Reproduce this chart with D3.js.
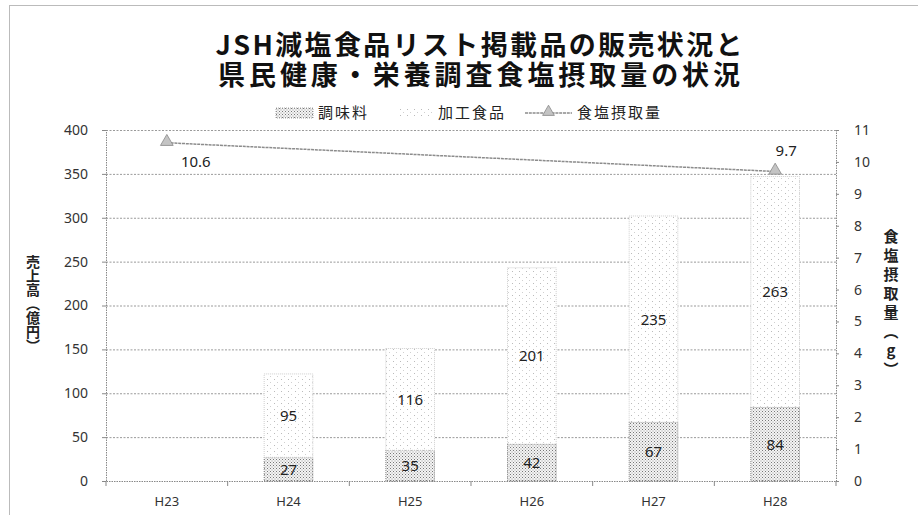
<!DOCTYPE html>
<html>
<head>
<meta charset="utf-8">
<script src="https://cdn.jsdelivr.net/npm/d3@7"></script>
<style>
body { margin: 0; background: #fff; }
svg { display: block; }
</style>
</head>
<body>
<svg id="chart" width="918" height="515"></svg>
<script>
// values
var categories = ['H23', 'H24', 'H25', 'H26', 'H27', 'H28']
var seasoning = [null, 27, 35, 42, 67, 84]        // 調味料
var processed = [null, 95, 116, 201, 235, 263]    // 加工食品
var saltIntake = [10.6, null, null, null, null, 9.7] // 食塩摂取量 (g)
var leftTicks = [0, 50, 100, 150, 200, 250, 300, 350, 400]
var rightTicks = [0, 1, 2, 3, 4, 5, 6, 7, 8, 9, 10, 11]

var svg = d3.select('#chart')
var plotLeft = 106, plotRight = 836, plotTop = 130, plotBottom = 481
var numFont = '"Noto Sans", "DejaVu Sans", sans-serif'
var cjkFont = '"Noto Sans CJK JP", "Noto Sans", sans-serif'

// patterns standing in for the scanned stipple fills
var defs = svg.append('defs')
var dense = defs.append('pattern').attr('id', 'dense')
    .attr('width', 3).attr('height', 3).attr('patternUnits', 'userSpaceOnUse')
dense.append('rect').attr('width', 3).attr('height', 3).attr('fill', '#f4f4f4')
dense.append('rect').attr('x', 0).attr('y', 0).attr('width', 1).attr('height', 1).attr('fill', '#777')
dense.append('rect').attr('x', 1.5).attr('y', 1.5).attr('width', 1).attr('height', 1).attr('fill', '#999')
var sparse = defs.append('pattern').attr('id', 'sparse')
    .attr('width', 7).attr('height', 6).attr('patternUnits', 'userSpaceOnUse')
sparse.append('rect').attr('width', 7).attr('height', 6).attr('fill', '#fff')
sparse.append('rect').attr('x', 1).attr('y', 1).attr('width', 1).attr('height', 1).attr('fill', '#bbb')
sparse.append('rect').attr('x', 4).attr('y', 4).attr('width', 1).attr('height', 1).attr('fill', '#d0d0d0')

// outer dotted frame
svg.append('rect')
    .attr('x', 9.5).attr('y', 5.5).attr('width', 920).attr('height', 520)
    .attr('fill', 'none').attr('stroke', '#777').attr('stroke-dasharray', '1,1')

// title, one text with a tspan per line
var titleLines = ['JSH減塩食品リスト掲載品の販売状況と', '県民健康・栄養調査食塩摂取量の状況']
svg.append('text')
    .attr('text-anchor', 'middle')
    .style('font-family', cjkFont).style('font-weight', 'bold').style('font-size', '27px')
    .style('fill', '#111')
    .selectAll('tspan').data(titleLines).enter().append('tspan')
    .attr('x', 479).attr('y', function (d, i) { return 55 + i * 30 })
    .attr('textLength', function (d, i) { return i == 0 ? 527 : 522 })
    .attr('lengthAdjust', 'spacing')
    .text(function (d) { return d })

// scales
var x = d3.scaleBand().domain(categories).range([plotLeft, plotRight]).paddingInner(0.6).paddingOuter(0.3)
var xEdges = d3.scaleBand().domain(categories).range([plotLeft, plotRight])
var y = d3.scaleLinear().domain([0, 400]).range([plotBottom, plotTop])
var y2 = d3.scaleLinear().domain([0, 11]).range([plotBottom, plotTop])

// gridlines
svg.append('g').selectAll('line').data(leftTicks.slice(1)).enter().append('line')
    .attr('x1', plotLeft).attr('x2', plotRight)
    .attr('y1', function (d) { return y(d) + 0.5 }).attr('y2', function (d) { return y(d) + 0.5 })
    .attr('stroke', '#9a9a9a').attr('stroke-dasharray', '2,1.5')

// stacked bars
var table = categories.map(function (c, i) {
    return { cat: c, seasoning: seasoning[i], processed: processed[i] }
}).filter(function (d) { return d.seasoning != null })
var stacked = d3.stack().keys(['seasoning', 'processed'])(table)
var fills = { seasoning: 'url(#dense)', processed: 'url(#sparse)' }
var edges = { seasoning: '#8a8a8a', processed: '#cfcfcf' }

var layers = svg.append('g').selectAll('g').data(stacked).enter().append('g')
layers.selectAll('rect').data(function (s) { return s.map(function (d) { d.key = s.key; return d }) })
    .enter().append('rect')
    .attr('x', function (d) { return x(d.data.cat) })
    .attr('width', x.bandwidth())
    .attr('y', function (d) { return y(d[1]) })
    .attr('height', function (d) { return y(d[0]) - y(d[1]) })
    .attr('fill', function (d) { return fills[d.key] })
    .attr('stroke', function (d) { return edges[d.key] })
    .attr('stroke-dasharray', '1,1')
layers.selectAll('text').data(function (s) { return s }).enter().append('text')
    .attr('x', function (d) { return x(d.data.cat) + x.bandwidth() / 2 })
    .attr('y', function (d) { return y((d[0] + d[1]) / 2) })
    .attr('dy', '0.36em')
    .attr('text-anchor', 'middle')
    .style('font-family', numFont).style('font-size', '15px').style('fill', '#222')
    .text(function (d) { return d[1] - d[0] })

// axes
var yAxis = svg.append('g').attr('transform', 'translate(' + plotLeft + ',0)')
    .call(d3.axisLeft(y).tickValues(leftTicks).tickSize(4).tickPadding(14))
var yAxis2 = svg.append('g').attr('transform', 'translate(' + plotRight + ',0)')
    .call(d3.axisRight(y2).tickValues(rightTicks).tickSize(3).tickPadding(15))
var xAxis = svg.append('g').attr('transform', 'translate(0,' + plotBottom + ')')
    .call(d3.axisBottom(x).tickSize(0).tickPadding(16))
xAxis.selectAll('.tick').data(categories).append('line')
    .attr('x1', function (d) { return xEdges(d) - x(d) - x.bandwidth() / 2 })
    .attr('x2', function (d) { return xEdges(d) - x(d) - x.bandwidth() / 2 })
    .attr('y1', 0).attr('y2', 5).attr('stroke', '#888')
xAxis.append('line').attr('x1', plotRight).attr('x2', plotRight).attr('y1', 0).attr('y2', 5).attr('stroke', '#888')

;[yAxis, yAxis2, xAxis].forEach(function (g) {
    g.select('.domain').attr('stroke', '#888').attr('stroke-dasharray', '1.5,1')
    g.selectAll('.tick line').attr('stroke', '#888')
    g.selectAll('text').style('font-family', numFont).style('font-size', '14px').style('fill', '#333')
})
xAxis.selectAll('text').style('font-size', '13px')

// axis titles
svg.append('text')
    .attr('x', 33).attr('y', 304)
    .attr('text-anchor', 'middle')
    .style('writing-mode', 'vertical-rl')
    .style('font-family', cjkFont).style('font-weight', 'bold').style('font-size', '14px')
    .style('fill', '#222')
    .text('売上高（億円）')
svg.append('text')
    .attr('x', 891).attr('y', 305)
    .attr('text-anchor', 'middle')
    .style('writing-mode', 'vertical-rl').style('text-orientation', 'upright')
    .style('font-family', cjkFont).style('font-weight', 'bold').style('font-size', '15px')
    .style('letter-spacing', '4px').style('fill', '#222')
    .text('食塩摂取量（g）')

// salt intake line (connects across the empty years)
var saltPts = categories.map(function (c, i) { return { cat: c, v: saltIntake[i] } })
    .filter(function (d) { return d.v != null })
var cx = function (d) { return x(d.cat) + x.bandwidth() / 2 }
svg.append('path').datum(saltPts)
    .attr('d', d3.line().x(cx).y(function (d) { return y2(d.v) }))
    .attr('fill', 'none').attr('stroke', '#8c8c8c').attr('stroke-width', 1.5)
    .attr('stroke-dasharray', '3,0.8')
svg.append('g').selectAll('path').data(saltPts).enter().append('path')
    .attr('transform', function (d) { return 'translate(' + cx(d) + ',' + (y2(d.v) - 1) + ')' })
    .attr('d', d3.symbol(d3.symbolTriangle).size(70))
    .attr('fill', '#c4c4c4').attr('stroke', '#888').attr('stroke-width', 0.8)
svg.append('g').selectAll('text').data(saltPts).enter().append('text')
    .attr('x', function (d, i) { return cx(d) + (i == 0 ? 29 : 11) })
    .attr('y', function (d, i) { return y2(d.v) + (i == 0 ? 19 : -21) })
    .attr('dy', '0.36em')
    .attr('text-anchor', 'middle')
    .style('font-family', numFont).style('font-size', '15px').style('fill', '#222')
    .text(function (d) { return d.v })

// legend
var legend = svg.append('g')
legend.append('rect').attr('x', 276).attr('y', 108).attr('width', 37).attr('height', 10)
    .attr('fill', 'url(#dense)').attr('stroke', '#aaa').attr('stroke-dasharray', '1,1')
legend.append('rect').attr('x', 397).attr('y', 108).attr('width', 37).attr('height', 10)
    .attr('fill', 'url(#sparse)')
legend.append('line').attr('x1', 525).attr('x2', 572).attr('y1', 113).attr('y2', 113)
    .attr('stroke', '#8c8c8c').attr('stroke-width', 1.5).attr('stroke-dasharray', '3,0.8')
legend.append('path').attr('transform', 'translate(548.5,112)')
    .attr('d', d3.symbol(d3.symbolTriangle).size(60))
    .attr('fill', '#c4c4c4').attr('stroke', '#888').attr('stroke-width', 0.8)
var legendItems = [['調味料', 318], ['加工食品', 438], ['食塩摂取量', 577]]
legend.selectAll('text').data(legendItems).enter().append('text')
    .attr('x', function (d) { return d[1] }).attr('y', 113)
    .attr('dy', '0.36em')
    .style('font-family', cjkFont).style('font-size', '15px').style('letter-spacing', '2px')
    .style('fill', '#222')
    .text(function (d) { return d[0] })
</script>
</body>
</html>
